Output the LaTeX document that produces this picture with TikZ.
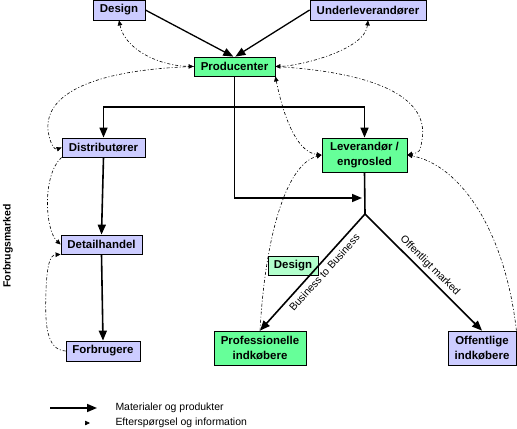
\documentclass[tikz,border=0pt]{standalone}
\usepackage{fontspec}
\setmainfont{Liberation Sans}
\usetikzlibrary{arrows.meta}
\definecolor{lilla}{RGB}{204,204,255}
\definecolor{groen}{RGB}{102,255,153}
\definecolor{lysgroen}{RGB}{178,255,204}
\begin{document}
\begin{tikzpicture}[x=1bp,y=-1bp,
  boks/.style={draw, line width=0.8bp, inner sep=0pt, align=center, font=\fontsize{11.5}{14.5}\selectfont\bfseries},
  flow/.style={line width=1.6bp, -{Triangle[length=10bp,width=8bp]}},
  info/.style={line width=0.6bp, dash pattern=on 3bp off 2bp on 1bp off 2bp, -{Triangle[length=5bp,width=4.5bp]}},
  lbl/.style={font=\fontsize{10.5}{12}\selectfont}]
\useasboundingbox (0,0) rectangle (517,428);
\node[boks, fill=lilla, minimum width=52bp, minimum height=20bp] (design) at (119,10) {Design};
\node[boks, fill=lilla, minimum width=116bp, minimum height=20bp] (underlev) at (368,10) {Underleverandører};
\node[boks, fill=groen, minimum width=81bp, minimum height=19bp] (prod) at (234.5,66.5) {Producenter};
\node[boks, fill=lilla, minimum width=83bp, minimum height=19bp] (distrib) at (103.5,147.5) {Distributører};
\node[boks, fill=groen, minimum width=85bp, minimum height=34bp] (lev) at (364.5,155) {Leverandør /\\ engrosled};
\node[boks, fill=lilla, minimum width=81bp, minimum height=19bp] (detail) at (101.5,244.5) {Detailhandel};
\node[boks, fill=lilla, minimum width=74bp, minimum height=20bp] (forbrug) at (103,351) {Forbrugere};
\node[boks, fill=lysgroen, minimum width=50bp, minimum height=19bp] (design2) at (293,265.5) {Design};
\node[boks, fill=groen, minimum width=92bp, minimum height=34bp] (prof) at (260,348) {Professionelle\\ indkøbere};
\node[boks, fill=lilla, minimum width=68bp, minimum height=34bp] (off) at (482,348) {Offentlige\\ indkøbere};
\node[font=\fontsize{10.5}{12}\selectfont\bfseries, rotate=90] (marked) at (8,246) {Forbrugsmarked};

\coordinate (bar) at (235,107);
\coordinate (levjoin) at (362,198);
\coordinate (split) at (365,214);

\draw[flow, line width=1.3bp] (design.east) -- (prod.97);
\draw[flow, line width=1.3bp] (underlev.west) -- (prod.85);
\draw[flow] (prod.south) |- (levjoin);
\draw[flow] (bar) -| (distrib.north);
\draw[flow] (bar) -| (lev.north);
\draw[flow] (distrib.south) -- (detail.north);
\draw[flow] (detail.south) -- (forbrug.north);
\draw[line width=1.6bp] (lev.south) -- (split);
\draw[flow] (split) -- (prof.north) node[lbl, sloped, pos=0.45, below=1bp] {Business to Business};
\draw[flow] (split) -- (off.north) node[lbl, sloped, pos=0.5, above=0bp] {Offentligt marked};

\draw[info, {Triangle[length=5bp,width=4.5bp]}-{Triangle[length=5bp,width=4.5bp]}] (design.south) .. controls (125,50) and (160,66) .. (prod.west);
\draw[info] (prod.west) .. controls (90,70) and (45,95) .. (48,130) .. controls (50,145) and (55,150) .. (distrib.west);
\draw[info] (distrib.south west) .. controls (42,175) and (45,230) .. (detail.west);
\draw[info] (forbrug.west) .. controls (45,350) and (45,320) .. (46,290) .. controls (47,265) and (50,255) .. (detail.south west);
\draw[info, {Triangle[length=5bp,width=4.5bp]}-{Triangle[length=5bp,width=4.5bp]}] (underlev.south) .. controls (365,50) and (300,66) .. (prod.east);
\draw[info] (prod.east) .. controls (370,72) and (430,95) .. (422,140) .. controls (420,152) .. (lev.east);
\draw[info, {Triangle[length=5bp,width=4.5bp]}-{Triangle[length=5bp,width=4.5bp]}] (prod.south east) .. controls (282,110) and (295,152) .. (lev.west);
\draw[info] (prof.north) .. controls (265,240) and (285,165) .. (lev.west);
\draw[info] (off.north east) .. controls (505,230) and (460,165) .. (lev.east);

\coordinate (legA) at (50,408);
\coordinate (legB) at (97,408);
\coordinate (legC) at (85,423);
\coordinate (legD) at (90,423);
\draw[flow] (legA) -- (legB);
\draw[info] (legC) -- (legD);
\node[lbl, anchor=west] (legflow) at (112,408) {Materialer og produkter};
\node[lbl, anchor=west] (leginfo) at (112,423) {Efterspørgsel og information};
\end{tikzpicture}
\end{document}
